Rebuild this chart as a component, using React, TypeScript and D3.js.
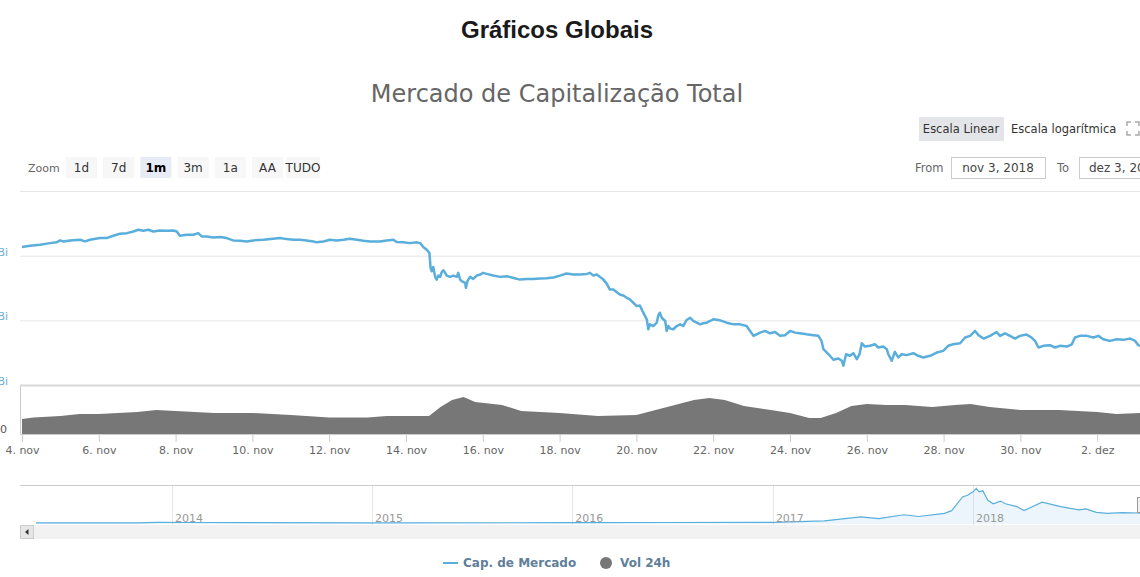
import React, { useEffect, useRef } from "react";
import * as d3 from "d3";

// market cap (Bi USD), day offsets since 4 nov 2018 00:00 UTC
const capDays = [
  0, 0.21, 0.47, 0.73, 0.9, 0.99, 1.08, 1.25, 1.51, 1.64, 1.77, 2.03, 2.2, 2.38, 2.46, 2.55, 2.73,
  2.9, 3.03, 3.16, 3.29, 3.42, 3.59, 3.77, 3.94, 4.03, 4.11, 4.29, 4.46, 4.59, 4.68, 4.81, 4.98,
  5.16, 5.33, 5.5, 5.68, 5.85, 6.02, 6.28, 6.54, 6.72, 6.89, 7.07, 7.24, 7.41, 7.59, 7.67, 7.85,
  8.02, 8.19, 8.37, 8.54, 8.72, 8.89, 9.06,
  9.32, 9.5, 9.67, 9.76, 9.93, 10.1, 10.28, 10.37, 10.45, 10.54, 10.61, 10.64, 10.67, 10.71, 10.76,
  10.8, 10.84, 10.89, 10.93, 10.97, 11.02, 11.06, 11.15, 11.23, 11.32, 11.36, 11.41, 11.45, 11.54,
  11.56, 11.6, 11.67, 11.75, 11.84, 11.93, 12.01, 12.1, 12.27, 12.45, 12.62, 12.8, 12.97, 13.14,
  13.32, 13.49, 13.66, 13.84, 14.01, 14.18, 14.36, 14.53, 14.71, 14.79, 14.88, 14.97, 15.05, 15.14,
  15.23, 15.31, 15.4, 15.49, 15.57, 15.66, 15.75, 15.83, 15.92, 16.01, 16.09, 16.18, 16.27, 16.31,
  16.35, 16.44, 16.53, 16.57, 16.61, 16.66, 16.75, 16.79, 16.83, 16.88, 16.96, 17.05, 17.14, 17.22,
  17.31, 17.4, 17.48, 17.57, 17.66, 17.74, 17.83, 17.92, 18.0, 18.18, 18.35, 18.53, 18.7, 18.87,
  18.96, 19.05,
  19.22, 19.35, 19.48, 19.61, 19.74, 19.87, 20.0, 20.13, 20.26, 20.43, 20.61, 20.74, 20.82, 20.87,
  20.96, 21.04, 21.13, 21.26, 21.35, 21.39, 21.46, 21.56, 21.65, 21.74, 21.81, 21.87, 21.95, 22.08,
  22.21, 22.3, 22.43, 22.52, 22.56, 22.65, 22.73, 22.82, 22.91, 23.04, 23.21, 23.34, 23.47, 23.65,
  23.82, 23.99, 24.12, 24.25, 24.43, 24.56, 24.69, 24.82, 24.91, 25.04, 25.21, 25.38, 25.47, 25.6,
  25.73, 25.86, 25.99, 26.16, 26.29, 26.38, 26.47, 26.6, 26.77, 26.9, 27.03, 27.21, 27.34, 27.42,
  27.55, 27.73, 27.9, 28.03, 28.16, 28.33, 28.51, 28.68, 28.86, 28.99, 29.07, 29.12,
];
const capValues = [
  206.7, 207.7, 208.5, 209.7, 210.3, 211.8, 211.0, 211.8, 212.3, 211.0, 212.3, 213.6, 213.6, 215.4,
  216.2, 216.9, 217.4, 218.7, 220.0, 219.2, 220.0, 218.7, 219.5, 219.2, 219.5, 218.7, 215.4, 216.2,
  216.2, 217.4, 214.9, 214.9, 214.1, 214.4, 213.6, 211.8, 211.5, 211.0, 211.8, 212.3, 213.1, 213.6,
  212.8, 212.3, 212.3, 211.8, 211.0, 210.3, 211.0, 212.3, 211.8, 212.3, 213.1, 212.3, 211.5, 211.0,
  211.0, 211.8, 212.3, 210.5, 210.3, 209.7, 210.3, 209.7, 206.7, 204.6, 202.0, 190.5, 187.9, 191.3,
  183.6, 181.5, 184.6, 183.6, 187.2, 188.7, 186.7, 184.6, 183.6, 184.6, 183.6, 186.7, 181.5, 180.3,
  179.0, 175.1, 180.3, 183.6, 182.0, 184.6, 185.4, 186.7, 185.9, 184.6, 183.6, 184.1, 182.8, 181.5,
  182.0, 182.0, 182.3, 182.6, 183.1, 184.6, 186.2, 185.4, 185.4, 185.9, 186.7, 184.6, 185.4, 183.6,
  181.5, 178.2, 173.8, 173.8, 171.8, 170.0, 169.2, 167.4, 166.2, 163.6, 161.0, 161.5, 155.9, 150.8,
  143.1, 146.9, 145.6, 148.2, 153.8, 155.9, 152.0, 149.5, 141.8, 145.6, 143.6, 143.1, 145.6, 146.9,
  145.6, 150.3, 152.0, 149.5, 148.2, 146.9, 147.7, 148.2, 149.5, 150.8, 150.0, 148.2, 146.9, 146.9,
  145.6, 141.8, 138.0,
  140.5, 141.8, 140.0, 141.0, 138.0, 138.5, 141.8, 140.5, 140.0, 139.2, 138.5, 138.0, 134.1, 127.7,
  125.1, 122.6, 119.5, 120.5, 118.7, 114.9, 123.8, 122.6, 124.6, 120.0, 123.8, 132.3, 129.7, 130.3,
  131.5, 129.0, 129.7, 127.7, 123.8, 118.7, 125.6, 121.3, 123.8, 123.1, 124.6, 122.6, 121.3, 122.6,
  125.1, 126.4, 130.3, 131.5, 132.3, 136.7, 138.0, 141.8, 138.5, 135.9, 138.0, 141.0, 138.0, 140.0,
  138.0, 135.9, 138.0, 139.0, 136.7, 134.1, 129.0, 130.3, 130.8, 129.0, 130.3, 129.7, 131.5, 136.7,
  138.0, 138.0, 136.7, 138.0, 135.4, 134.1, 135.4, 134.9, 135.9, 134.1, 130.8, 130.3,
];

// 24h volume (Bi USD)
const volDays = [
  0, 0.3, 1, 1.5, 2, 3, 3.5, 4, 5, 6, 7, 8, 9, 9.5, 10, 10.6, 10.9, 11.2, 11.5, 11.8, 12.5, 13, 14,
  15, 16, 16.5, 17, 17.5, 17.9, 18.3, 18.8, 19.5, 20, 20.5, 20.8, 21.2, 21.6, 22, 22.5, 23, 23.7,
  24.3, 24.7, 25.2, 26, 27, 28, 28.5, 29.2,
];
const volValues = [
  12.5, 13.8, 15, 16.7, 16.7, 18.3, 20, 19.2, 17.5, 17.5, 15.8, 13.8, 13.8, 15, 15, 15, 22.5, 28.3,
  30.8, 26.7, 24.2, 19.2, 17.5, 15, 15.8, 20, 24.2, 28.3, 30, 28.3, 23.3, 20, 17.5, 13.3, 13.3,
  17.5, 23.3, 25, 24.2, 24.2, 22.5, 24.2, 25, 22.5, 20, 20, 18.3, 16.7, 17.5,
];

const tickDates = [
  "2018-11-04", "2018-11-06", "2018-11-08", "2018-11-10", "2018-11-12", "2018-11-14", "2018-11-16",
  "2018-11-18", "2018-11-20", "2018-11-22", "2018-11-24", "2018-11-26", "2018-11-28", "2018-11-30",
  "2018-12-02",
];
const monthsPt = ["jan", "fev", "mar", "abr", "mai", "jun", "jul", "ago", "set", "out", "nov", "dez"];
const capTicks = [100, 150, 200, 250];

// navigator: full history of market cap (Bi USD)
const navDates = [
  "2013-04-28", "2013-11-01", "2013-12-04", "2014-02-01", "2014-06-01", "2015-01-01", "2016-01-01",
  "2016-06-15", "2017-01-01", "2017-04-05", "2017-06-10", "2017-07-13", "2017-08-28", "2017-09-24",
  "2017-11-10", "2017-11-23", "2017-12-13", "2017-12-22", "2018-01-01", "2018-01-07", "2018-01-12",
  "2018-01-19", "2018-01-28", "2018-02-07", "2018-02-20", "2018-03-01", "2018-03-22", "2018-04-04",
  "2018-05-07", "2018-06-10", "2018-07-13", "2018-07-26", "2018-08-14", "2018-09-03", "2018-09-30",
  "2018-10-31", "2018-12-03",
];
const navValues = [
  1.5, 3, 15, 12, 8, 5, 7, 12, 17, 49, 146, 105, 195, 154, 227, 293, 617, 659, 739, 822, 739, 763,
  537, 456, 520, 456, 390, 293, 495, 390, 310, 334, 251, 227, 244, 237, 130,
];
const navYears = [2014, 2015, 2016, 2017, 2018];

const zoomButtons = ["1d", "7d", "1m", "3m", "1a", "AA", "TUDO"];
const activeZoom = "1m";

const blue = "#5aaedb";
const font = "'DejaVu Sans', sans-serif";
const DAY = 864e5;
const base = Date.UTC(2018, 10, 4);

const App = () => {
  const ref = useRef<SVGSVGElement>(null);

  useEffect(() => {
    const svg = d3.select(ref.current);
    svg.selectAll("*").remove();

    // titles
    svg.append("text").attr("x", 557).attr("y", 38).attr("text-anchor", "middle")
      .style("font-family", "'Liberation Sans', Arial, sans-serif").style("font-weight", "bold")
      .style("font-size", "24px").attr("fill", "#1a1a1a").text("Gráficos Globais");
    svg.append("text").attr("x", 557).attr("y", 102).attr("text-anchor", "middle")
      .style("font-family", font).style("font-size", "24px").attr("fill", "#666")
      .text("Mercado de Capitalização Total");

    // scale toggles
    svg.append("rect").attr("x", 919).attr("y", 117).attr("width", 85).attr("height", 24)
      .attr("fill", "#e3e5e9");
    svg.append("text").attr("x", 961).attr("y", 133).attr("text-anchor", "middle")
      .style("font-family", font).style("font-size", "11.5px").attr("fill", "#333").text("Escala Linear");
    svg.append("text").attr("x", 1011).attr("y", 133)
      .style("font-family", font).style("font-size", "11.5px").attr("fill", "#333").text("Escala logarítmica");
    const fs = svg.append("g").attr("stroke", "#aaa").attr("stroke-width", 1.5).attr("fill", "none");
    fs.append("path").attr("d", "M1127,126 v-4 h4 M1135,122 h4 v4 M1139,131 v4 h-4 M1131,135 h-4 v-4");

    // range selector
    svg.append("text").attr("x", 28).attr("y", 172).style("font-family", font)
      .style("font-size", "11px").attr("fill", "#666").text("Zoom");
    zoomButtons.forEach((b, i) => {
      const bx = i < 6 ? 66 + i * 37.2 : 286;
      const bw = b === "TUDO" ? 34 : 31;
      svg.append("rect").attr("x", bx).attr("y", 157).attr("width", bw).attr("height", 21)
        .attr("fill", b === activeZoom ? "#e6ebf5" : "#f7f7f7");
      svg.append("text").attr("x", bx + bw / 2).attr("y", 172).attr("text-anchor", "middle")
        .style("font-family", font).style("font-size", "12px")
        .style("font-weight", b === activeZoom ? "bold" : "normal")
        .attr("fill", b === activeZoom ? "#000" : "#333").text(b);
    });
    svg.append("text").attr("x", 915).attr("y", 172).style("font-family", font)
      .style("font-size", "11.5px").attr("fill", "#666").text("From");
    svg.append("rect").attr("x", 951.5).attr("y", 157.5).attr("width", 94).attr("height", 21)
      .attr("fill", "#fff").attr("stroke", "#ccc");
    svg.append("text").attr("x", 998).attr("y", 172).attr("text-anchor", "middle").style("font-family", font)
      .style("font-size", "12px").attr("fill", "#444").text("nov 3, 2018");
    svg.append("text").attr("x", 1057).attr("y", 172).style("font-family", font)
      .style("font-size", "11.5px").attr("fill", "#666").text("To");
    svg.append("rect").attr("x", 1079.5).attr("y", 157.5).attr("width", 94).attr("height", 21)
      .attr("fill", "#fff").attr("stroke", "#ccc");
    svg.append("text").attr("x", 1089).attr("y", 172).style("font-family", font)
      .style("font-size", "12px").attr("fill", "#444").text("dez 3, 2018");

    // scales
    const x = d3.scaleUtc()
      .domain([new Date(base), new Date(base + 30 * DAY)])
      .range([22, 22 + 30 * 38.4]);
    const y = d3.scaleLinear().domain([100, 250]).range([385, 191]);
    const yv = d3.scaleLinear().domain([0, 40]).range([434, 386]);
    const toDate = (d: number) => new Date(base + d * DAY);

    svg.append("clipPath").attr("id", "plot-clip").append("rect")
      .attr("x", 20).attr("y", 150).attr("width", 1120).attr("height", 300);

    // grid
    svg.append("g").selectAll("line").data(capTicks.filter((t) => t !== 100)).enter().append("line")
      .attr("x1", 20).attr("x2", 1140).attr("y1", (d) => y(d) + 0.5).attr("y2", (d) => y(d) + 0.5)
      .attr("stroke", "#e6e6e6");
    svg.append("line").attr("x1", 20).attr("x2", 1140).attr("y1", 385.5).attr("y2", 385.5)
      .attr("stroke", "#d8d8d8").attr("stroke-width", 2);

    // y labels (cut off at left edge, as in the page capture)
    svg.append("g").selectAll("text").data(capTicks.filter((t) => t !== 250)).enter().append("text")
      .attr("x", 8).attr("y", (d) => y(d)).attr("text-anchor", "end")
      .style("font-family", font).style("font-size", "11px").attr("fill", "#6aaed6")
      .text((d) => `$${d}Bi`);
    svg.append("text").attr("x", 7).attr("y", 433).attr("text-anchor", "end")
      .style("font-family", font).style("font-size", "11px").attr("fill", "#555").text("0");

    // volume
    const vol = volDays.map((d, i) => [d, volValues[i]] as [number, number]);
    const area = d3.area<[number, number]>()
      .x((d) => x(toDate(d[0])))
      .y0(yv(0))
      .y1((d) => yv(d[1]));
    svg.append("path").attr("clip-path", "url(#plot-clip)").attr("d", area(vol))
      .attr("fill", "#777");
    svg.append("line").attr("x1", 20.5).attr("x2", 20.5).attr("y1", 386).attr("y2", 434)
      .attr("stroke", "#ccc");

    // cap line
    const cap = capDays.map((d, i) => [d, capValues[i]] as [number, number]);
    const line = d3.line<[number, number]>()
      .x((d) => x(toDate(d[0])))
      .y((d) => y(d[1]));
    svg.append("path").attr("clip-path", "url(#plot-clip)").attr("d", line(cap))
      .attr("fill", "none").attr("stroke", blue).attr("stroke-width", 2.5)
      .attr("stroke-linejoin", "round");

    // x axis
    const tickVals = tickDates.map((s) => new Date(s + "T00:00:00Z"));
    const xAxis = svg.append("g").attr("transform", "translate(0,434)")
      .call(d3.axisBottom(x).tickValues(tickVals).tickSize(8).tickSizeOuter(0)
        .tickFormat((d) => `${(d as Date).getUTCDate()}. ${monthsPt[(d as Date).getUTCMonth()]}`));
    xAxis.select(".domain").attr("stroke", "#ccc").attr("d", "M20,0.5H1140");
    xAxis.selectAll(".tick line").attr("stroke", "#ccc");
    xAxis.selectAll(".tick text").attr("y", 12).attr("fill", "#666")
      .style("font-family", font).style("font-size", "11px");

    // navigator
    const nx = d3.scaleUtc()
      .domain([new Date(Date.UTC(2014, 0, 1)), new Date(Date.UTC(2018, 0, 1))])
      .range([172, 973]);
    const ny = d3.scaleLinear().domain([0, 830]).range([523, 488]);
    svg.append("line").attr("x1", 20).attr("x2", 1140).attr("y1", 485.5).attr("y2", 485.5)
      .attr("stroke", "#ccc");
    svg.append("g").selectAll("line").data(navYears).enter().append("line")
      .attr("x1", (d) => Math.round(nx(new Date(Date.UTC(d, 0, 1)))) + 0.5)
      .attr("x2", (d) => Math.round(nx(new Date(Date.UTC(d, 0, 1)))) + 0.5)
      .attr("y1", 486).attr("y2", 525).attr("stroke", "#e6e6e6");
    const nav = navDates.map((s, i) => [new Date(s + "T00:00:00Z"), navValues[i]] as [Date, number]);
    svg.append("path")
      .attr("d", d3.area<[Date, number]>().x((d) => nx(d[0])).y0(524).y1((d) => ny(d[1]))(nav))
      .attr("fill", blue).attr("fill-opacity", 0.12);
    svg.append("path")
      .attr("d", d3.line<[Date, number]>().x((d) => nx(d[0])).y((d) => ny(d[1]))(nav))
      .attr("fill", "none").attr("stroke", blue).attr("stroke-width", 1.2);
    svg.append("g").selectAll("text").data(navYears).enter().append("text")
      .attr("x", (d) => nx(new Date(Date.UTC(d, 0, 1))) + 3).attr("y", 522)
      .style("font-family", font).style("font-size", "11px").attr("fill", "#999")
      .text((d) => d);
    svg.append("rect").attr("x", 1137.5).attr("y", 497.5).attr("width", 8).attr("height", 15)
      .attr("fill", "#f2f2f2").attr("stroke", "#999");

    // scrollbar
    svg.append("rect").attr("x", 20).attr("y", 525).attr("width", 1120).attr("height", 14)
      .attr("fill", "#f2f2f2");
    svg.append("rect").attr("x", 20.5).attr("y", 525.5).attr("width", 13).attr("height", 13)
      .attr("fill", "#e6e6e6").attr("stroke", "#ccc");
    svg.append("path").attr("d", "M28.5,529 L25,532 L28.5,535 Z").attr("fill", "#333");

    // legend
    svg.append("line").attr("x1", 443).attr("x2", 458).attr("y1", 563).attr("y2", 563)
      .attr("stroke", blue).attr("stroke-width", 2);
    svg.append("text").attr("x", 463).attr("y", 567).style("font-family", font)
      .style("font-size", "12px").style("font-weight", "bold").attr("fill", "#5f7f99")
      .text("Cap. de Mercado");
    svg.append("circle").attr("cx", 606).attr("cy", 563).attr("r", 6).attr("fill", "#777");
    svg.append("text").attr("x", 620).attr("y", 567).style("font-family", font)
      .style("font-size", "12px").style("font-weight", "bold").attr("fill", "#5f7f99")
      .text("Vol 24h");
  }, []);

  return (
    <div style={{ position: "absolute", left: 0, top: 0, width: 1140, height: 577, overflow: "hidden" }}>
      <svg ref={ref} width={1140} height={577} style={{ display: "block", background: "#fff" }}></svg>
    </div>
  );
};

export default App;
